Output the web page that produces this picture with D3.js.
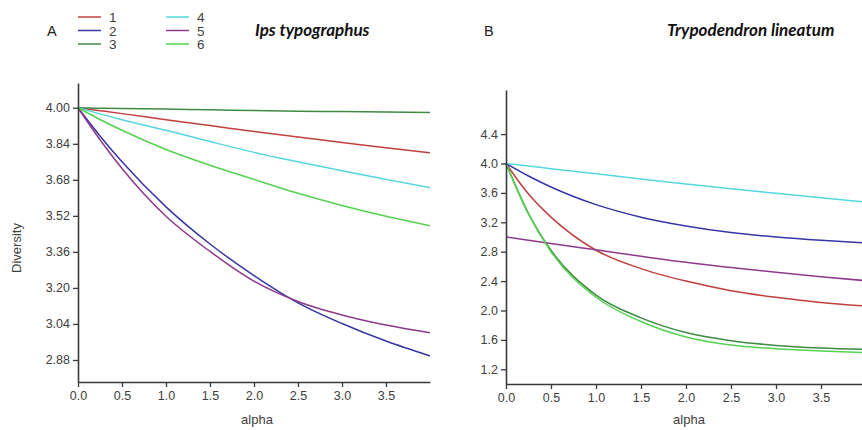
<!DOCTYPE html>
<html>
<head>
<meta charset="utf-8">
<script src="https://cdn.jsdelivr.net/npm/d3@7"></script>
<style>
  body { margin: 0; background: #fff; }
  svg { display: block; }
</style>
</head>
<body>
<div id="chart"></div>
<script>
// alpha values shared by every curve
const alphaVals = [0, 0.25, 0.5, 1.0, 1.5, 2.0, 2.5, 3.0, 3.5, 4.0];

// panel A - Ips typographus
const ipsS1 = [4.000, 3.987, 3.974, 3.947, 3.921, 3.895, 3.870, 3.846, 3.822, 3.800];
const ipsS2 = [4.000, 3.875, 3.760, 3.560, 3.395, 3.255, 3.134, 3.042, 2.964, 2.898];
const ipsS3 = [4.000, 3.998, 3.997, 3.994, 3.991, 3.988, 3.985, 3.983, 3.981, 3.979];
const ipsS4 = [4.000, 3.973, 3.947, 3.900, 3.850, 3.802, 3.760, 3.720, 3.682, 3.645];
const ipsS5 = [4.000, 3.858, 3.730, 3.518, 3.362, 3.230, 3.140, 3.080, 3.035, 3.001];
const ipsS6 = [4.000, 3.948, 3.900, 3.815, 3.745, 3.682, 3.620, 3.566, 3.518, 3.476];

// panel B - Trypodendron lineatum
const tryS1 = [4.000, 3.584, 3.270, 2.820, 2.570, 2.400, 2.270, 2.180, 2.110, 2.060];
const tryS2 = [4.000, 3.830, 3.680, 3.440, 3.270, 3.150, 3.060, 3.000, 2.955, 2.920];
const tryS3 = [4.000, 3.320, 2.820, 2.210, 1.900, 1.700, 1.590, 1.525, 1.490, 1.470];
const tryS4 = [4.000, 3.965, 3.930, 3.860, 3.790, 3.720, 3.655, 3.595, 3.535, 3.475];
const tryS5 = [3.000, 2.955, 2.912, 2.825, 2.738, 2.655, 2.585, 2.520, 2.460, 2.405];
const tryS6 = [4.000, 3.310, 2.800, 2.180, 1.850, 1.640, 1.530, 1.480, 1.450, 1.425];

const seriesNames = ["1", "2", "3", "4", "5", "6"];
const seriesColors = ["#c0403f", "#3636a6", "#3f8a45", "#55d6de", "#8e3a8c", "#55d24f"];

const xTickVals = [0, 0.5, 1.0, 1.5, 2.0, 2.5, 3.0, 3.5];
const ipsYTicks = [2.88, 3.04, 3.20, 3.36, 3.52, 3.68, 3.84, 4.00];
const tryYTicks = [1.2, 1.6, 2.0, 2.4, 2.8, 3.2, 3.6, 4.0, 4.4];

const width = 862, height = 430;
const axisColor = "#3a3a3a";
const textColor = "#404040";

const svg = d3.select("#chart").append("svg")
    .attr("width", width)
    .attr("height", height)
    .style("font-family", "'Liberation Sans', Arial, sans-serif");

function drawPanel(cfg){
    const xScale = d3.scaleLinear().domain([0, 4]).range([cfg.left, cfg.right]);
    const yScale = d3.scaleLinear().domain(cfg.yDomain).range([cfg.bottom, cfg.top]);

    const g = svg.append("g");

    // curves
    const line = d3.line()
        .x((d) => xScale(d[0]))
        .y((d) => yScale(d[1]))
        .curve(d3.curveMonotoneX);

    cfg.series.forEach((vals, i) => {
        g.append("path")
            .datum(alphaVals.map((a, j) => [a, vals[j]]))
            .attr("fill", "none")
            .attr("stroke", seriesColors[i])
            .attr("stroke-width", 1.5)
            .attr("d", line);
    });

    // axes
    const xAxisG = g.append("g")
        .attr("transform", "translate(0," + cfg.bottom + ")")
        .call(d3.axisBottom(xScale).tickValues(xTickVals).tickFormat(d3.format(".1f"))
            .tickSizeInner(5).tickSizeOuter(0).tickPadding(4));

    const yAxisG = g.append("g")
        .attr("transform", "translate(" + cfg.left + ",0)")
        .call(d3.axisLeft(yScale).tickValues(cfg.yTicks).tickFormat(d3.format(cfg.yFormat))
            .tickSizeInner(5).tickSizeOuter(0).tickPadding(3));

    [xAxisG, yAxisG].forEach((a) => {
        a.select(".domain").attr("stroke", axisColor).attr("stroke-width", 1.6);
        a.selectAll(".tick line").attr("stroke", axisColor).attr("stroke-width", 1.3);
        a.selectAll(".tick text")
            .attr("fill", textColor)
            .style("font-size", "12.5px")
            .style("font-family", "'Liberation Sans', Arial, sans-serif");
    });

    g.append("text")
        .attr("x", (cfg.left + Math.min(cfg.right, width)) / 2 + cfg.xLabelShift)
        .attr("y", 424)
        .attr("text-anchor", "middle")
        .attr("fill", textColor)
        .style("font-size", "13px")
        .text("alpha");

    // panel letter and title
    g.append("text")
        .attr("x", cfg.letterX)
        .attr("y", 36)
        .attr("fill", "#222")
        .style("font-size", "14.5px")
        .text(cfg.letter);

    g.append("text")
        .attr("x", cfg.titleX)
        .attr("y", 36)
        .attr("fill", "#111")
        .style("font-family", "Lato, 'Open Sans', sans-serif")
        .style("font-size", "17px")
        .style("font-weight", "bold")
        .style("font-style", "italic")
        .text(cfg.title);
}

drawPanel({
    left: 78, right: 430, top: 83, bottom: 382,
    yDomain: [4 - (382 - 108) / 225, 4.11],
    yTicks: ipsYTicks, yFormat: ".2f",
    series: [ipsS1, ipsS2, ipsS3, ipsS4, ipsS5, ipsS6],
    letter: "A", letterX: 47,
    title: "Ips typographus", titleX: 255,
    xLabelShift: 3
});

drawPanel({
    left: 506, right: 866, top: 90, bottom: 384,
    yDomain: [1.0, 5.0],
    yTicks: tryYTicks, yFormat: ".1f",
    series: [tryS1, tryS2, tryS3, tryS4, tryS5, tryS6],
    letter: "B", letterX: 484,
    title: "Trypodendron lineatum", titleX: 667,
    xLabelShift: 5
});

// y label (only on panel A)
svg.append("text")
    .attr("transform", "translate(21,248) rotate(-90)")
    .attr("text-anchor", "middle")
    .attr("fill", textColor)
    .style("font-size", "13px")
    .text("Diversity");

// legend, two columns of three
const legend = svg.append("g");
seriesNames.forEach((name, i) => {
    const col = Math.floor(i / 3), row = i % 3;
    const lx = 78 + col * 88;
    const ly = 17 + row * 13.5;
    legend.append("line")
        .attr("x1", lx).attr("x2", lx + 23)
        .attr("y1", ly).attr("y2", ly)
        .attr("stroke", seriesColors[i])
        .attr("stroke-width", 1.5);
    legend.append("text")
        .attr("x", lx + 31)
        .attr("y", ly + 5)
        .attr("fill", textColor)
        .style("font-size", "13.5px")
        .text(name);
});
</script>
</body>
</html>
